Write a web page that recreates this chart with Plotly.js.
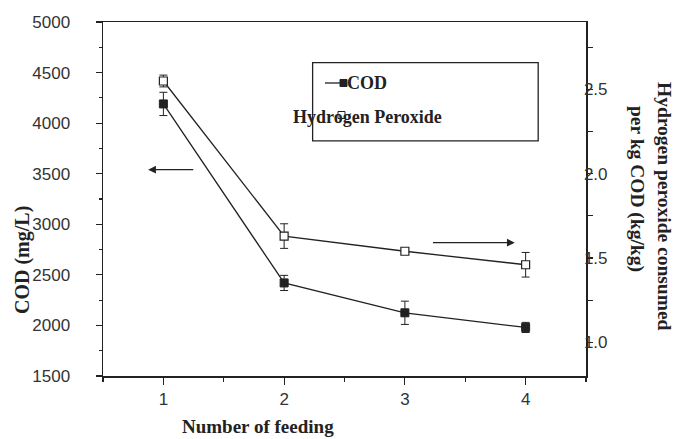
<!DOCTYPE html>
<html>
<head>
<meta charset="utf-8">
<script src="https://cdn.plot.ly/plotly-3.0.1.min.js"></script>
<style>html,body{margin:0;padding:0;background:#fff;}#chart{width:678px;height:439px;}</style>
</head>
<body>
<div id="chart"></div>
<script>
// Data
const feedings = [1, 2, 3, 4];
const codValues = [4190, 2420, 2125, 1980];
const codErrors = [115, 75, 115, 50];
const h2o2Values = [2.55, 1.63, 1.54, 1.46];
const h2o2Errors = [0.035, 0.073, 0.012, 0.073];
const xTickVals = [1, 2, 3, 4];
const codTickVals = [1500, 2000, 2500, 3000, 3500, 4000, 4500, 5000];
const h2o2TickVals = [1.0, 1.5, 2.0, 2.5];
const h2o2TickText = ['1.0', '1.5', '2.0', '2.5'];

const ink = '#222';
const serif = 'Liberation Serif, Times New Roman, serif';
const sans = 'Liberation Sans, Arial, sans-serif';

const traces = [
  {
    x: feedings, y: codValues, type: 'scatter', mode: 'lines+markers', name: 'COD',
    line: {color: ink, width: 1.3},
    marker: {symbol: 'square', size: 8, color: ink, line: {color: ink, width: 1}},
    error_y: {type: 'data', array: codErrors, visible: true, color: ink, thickness: 1, width: 4},
    xaxis: 'x', yaxis: 'y'
  },
  {
    x: feedings, y: h2o2Values, type: 'scatter', mode: 'lines+markers', name: 'Hydrogen Peroxide',
    line: {color: ink, width: 1.3},
    marker: {symbol: 'square', size: 8, color: '#fff', line: {color: ink, width: 1.2}},
    error_y: {type: 'data', array: h2o2Errors, visible: true, color: ink, thickness: 1, width: 4},
    xaxis: 'x', yaxis: 'y2'
  }
];

const layout = {
  width: 678, height: 439,
  margin: {l: 103, r: 92, t: 22, b: 63},
  paper_bgcolor: '#fff', plot_bgcolor: '#fff',
  showlegend: false,
  xaxis: {
    range: [0.5, 4.5], tickvals: xTickVals, ticks: 'outside', ticklen: 7, tickwidth: 1.2, tickcolor: ink,
    showline: true, linecolor: ink, linewidth: 1.5, mirror: true, showgrid: false, zeroline: false,
    tickfont: {family: sans, size: 17, color: '#333'}, ticklabelstandoff: 0,
    minor: {dtick: 0.5, tick0: 0.5, ticks: 'outside', ticklen: 4, tickwidth: 1.2, tickcolor: ink, showgrid: false}
  },
  yaxis: {
    range: [1500, 5000], tickvals: codTickVals, ticks: 'outside', ticklen: 6, tickwidth: 1.2, tickcolor: ink,
    showline: true, linecolor: ink, linewidth: 1.5, mirror: true, showgrid: false, zeroline: false,
    tickfont: {family: sans, size: 17, color: '#333'}, ticklabelstandoff: 22,
    minor: {dtick: 250, tick0: 1500, ticks: 'outside', ticklen: 3, tickwidth: 1.2, tickcolor: ink, showgrid: false}
  },
  yaxis2: {
    overlaying: 'y', side: 'right', range: [0.8, 2.9],
    tickvals: h2o2TickVals, ticktext: h2o2TickText, ticks: 'outside', ticklen: 5, tickwidth: 1.2, tickcolor: ink,
    showline: true, linecolor: ink, linewidth: 1.5, showgrid: false, zeroline: false,
    tickfont: {family: sans, size: 17, color: '#333'}, ticklabelstandoff: -12,
    minor: {dtick: 0.25, tick0: 0.75, ticks: 'outside', ticklen: 5, tickwidth: 1.2, tickcolor: ink, showgrid: false}
  },
  shapes: [
    {type: 'rect', xref: 'paper', yref: 'paper', x0: 0.434, x1: 0.901, y0: 0.664, y1: 0.885,
     line: {color: ink, width: 1.3}, fillcolor: 'rgba(0,0,0,0)'},
    {type: 'line', xref: 'paper', yref: 'paper', x0: 0.4596, x1: 0.4907, y0: 0.8277, y1: 0.8277,
     line: {color: ink, width: 1.3}}
  ],
  annotations: [
    // legend texts
    {xref: 'paper', yref: 'paper', x: 0.501, y: 0.8277, xanchor: 'left', yanchor: 'middle', showarrow: false,
     text: '<b>COD</b>', font: {family: serif, size: 18, color: ink}},
    {xref: 'paper', yref: 'paper', x: 0.389, y: 0.7316, xanchor: 'left', yanchor: 'middle', showarrow: false,
     text: '<b>Hydrogen Peroxide</b>', font: {family: serif, size: 18, color: ink}},
    // axis titles
    {xref: 'paper', yref: 'paper', x: (258 - 103) / 483, y: (376 - 426) / 354, xanchor: 'center', yanchor: 'middle',
     showarrow: false, text: '<b>Number of feeding</b>', font: {family: serif, size: 19, color: ink}},
    {xref: 'paper', yref: 'paper', x: (22 - 103) / 483, y: (376 - 260) / 354, xanchor: 'center', yanchor: 'middle',
     showarrow: false, textangle: -90, text: '<b>COD (mg/L)</b>', font: {family: serif, size: 20, color: ink}},
    {xref: 'paper', yref: 'paper', x: (665 - 103) / 483, y: (376 - 206) / 354, xanchor: 'center', yanchor: 'middle',
     showarrow: false, textangle: 90, text: '<b>Hydrogen peroxide consumed</b>', font: {family: serif, size: 19.5, color: ink}},
    {xref: 'paper', yref: 'paper', x: (637 - 103) / 483, y: (376 - 189) / 354, xanchor: 'center', yanchor: 'middle',
     showarrow: false, textangle: 90, text: '<b>per kg COD (kg/kg)</b>', font: {family: serif, size: 19.5, color: ink}},
    // arrows
    {xref: 'x', yref: 'y', x: 0.874, y: 3540, axref: 'x', ayref: 'y', ax: 1.26, ay: 3540, text: '',
     showarrow: true, arrowhead: 2, arrowsize: 1.3, arrowwidth: 1.2, arrowcolor: ink, standoff: 0},
    {xref: 'x', yref: 'y', x: 3.91, y: 2818, axref: 'x', ayref: 'y', ax: 3.22, ay: 2818, text: '',
     showarrow: true, arrowhead: 2, arrowsize: 1.3, arrowwidth: 1.2, arrowcolor: ink, standoff: 0}
  ]
};

// legend symbols placed as small square shapes
layout.shapes.push({type: 'rect', xref: 'paper', yref: 'paper', x0: 0.4907, x1: 0.5052, y0: 0.8178, y1: 0.8376,
  line: {color: ink, width: 1}, fillcolor: ink});
layout.shapes.push({type: 'rect', xref: 'paper', yref: 'paper', x0: (338 - 103) / 483, x1: (345 - 103) / 483,
  y0: (376 - 118.5) / 354, y1: (376 - 111.5) / 354, line: {color: ink, width: 1}, fillcolor: '#fff'});

Plotly.newPlot('chart', traces, layout, {displayModeBar: false, staticPlot: true});
</script>
</body>
</html>
